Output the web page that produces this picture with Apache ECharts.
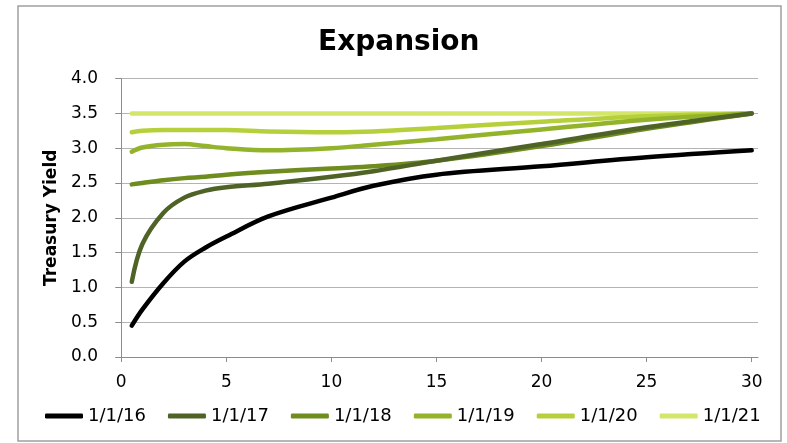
<!DOCTYPE html>
<html>
<head>
<meta charset="utf-8">
<script src="https://cdn.jsdelivr.net/npm/echarts@6/dist/echarts.min.js"></script>
<style>html,body{margin:0;padding:0;background:#fff}#c{width:787px;height:443px}</style>
</head>
<body>
<div id="c"></div>
<script>
const title = "Expansion";
const yAxisName = "Treasury Yield";
const seriesNames = ["1/1/16", "1/1/17", "1/1/18", "1/1/19", "1/1/20", "1/1/21"];
const maturities = [0.5, 1, 2, 3, 4, 5, 7, 10, 12, 15, 20, 25, 30];
const y16 = [0.45, 0.68, 1.06, 1.37, 1.57, 1.73, 2.02, 2.29, 2.46, 2.62, 2.74, 2.87, 2.97];
const y17 = [1.08, 1.62, 2.07, 2.29, 2.39, 2.44, 2.49, 2.59, 2.67, 2.82, 3.06, 3.30, 3.50];
const y18 = [2.48, 2.50, 2.54, 2.57, 2.59, 2.62, 2.66, 2.71, 2.74, 2.82, 3.03, 3.28, 3.50];
const y19 = [2.95, 3.01, 3.05, 3.06, 3.03, 3.00, 2.97, 3.00, 3.05, 3.13, 3.27, 3.41, 3.50];
const y20 = [3.23, 3.25, 3.26, 3.26, 3.26, 3.26, 3.24, 3.23, 3.24, 3.29, 3.38, 3.46, 3.50];
const y21 = [3.50, 3.50, 3.50, 3.50, 3.50, 3.50, 3.50, 3.50, 3.50, 3.50, 3.50, 3.50, 3.50];
const xTicks = [0, 5, 10, 15, 20, 25, 30];
const colors = ["#000000", "#4f6326", "#6e8d1e", "#93b42a", "#b6d03c", "#d3e66a"];

const allY = [y16, y17, y18, y19, y20, y21];
const FONT = "DejaVu Sans";

const chart = echarts.init(document.getElementById('c'), null, {renderer: 'canvas'});
chart.setOption({
  animation: false,
  backgroundColor: '#ffffff',
  color: colors,
  title: {
    text: title, left: 313, top: 24,
    textStyle: {fontFamily: FONT, fontWeight: 'bold', fontSize: 28, color: '#000'}
  },
  legend: {
    left: 40, top: 402,
    icon: 'roundRect', itemWidth: 38, itemHeight: 5, itemGap: 22, itemTextGap: 4,
    textStyle: {fontFamily: FONT, fontSize: 18, color: '#000'},
    data: seriesNames
  },
  grid: {left: 116, right: 29, top: 78.6, bottom: 86, containLabel: false},
  xAxis: {
    type: 'value', min: -0.25, max: 30.3,
    axisLine: {show: true, lineStyle: {color: '#8c8c8c', width: 1}},
    axisTick: {show: true, length: 5, customValues: xTicks, lineStyle: {color: '#8c8c8c'}},
    axisLabel: {customValues: xTicks, margin: 17, fontFamily: FONT, fontSize: 17, color: '#000'},
    splitLine: {show: false}
  },
  yAxis: {
    type: 'value', min: 0, max: 4, interval: 0.5,
    name: yAxisName, nameLocation: 'middle', nameGap: 54,
    nameTextStyle: {fontFamily: FONT, fontWeight: 'bold', fontSize: 17, color: '#000'},
    axisLine: {show: true, lineStyle: {color: '#8c8c8c', width: 1}},
    axisTick: {show: true, length: 6, lineStyle: {color: '#8c8c8c'}},
    axisLabel: {margin: 18, fontFamily: FONT, fontSize: 17, color: '#000', formatter: v => v.toFixed(1)},
    splitLine: {show: true, lineStyle: {color: '#b4b4b4', width: 1}}
  },
  graphic: [{
    type: 'rect', shape: {x: 18, y: 6, width: 763, height: 435},
    style: {fill: 'none', stroke: '#a0a0a0', lineWidth: 1.5}, silent: true, z: -1
  }],
  series: seriesNames.map((n, i) => ({
    name: n, type: 'line', smooth: 0.35, showSymbol: false, symbol: 'none',
    lineStyle: {width: 4.5, color: colors[i], cap: 'round'},
    itemStyle: {color: colors[i]},
    z: 10 - i,
    data: maturities.map((m, j) => [m, allY[i][j]])
  }))
});
</script>
</body>
</html>
